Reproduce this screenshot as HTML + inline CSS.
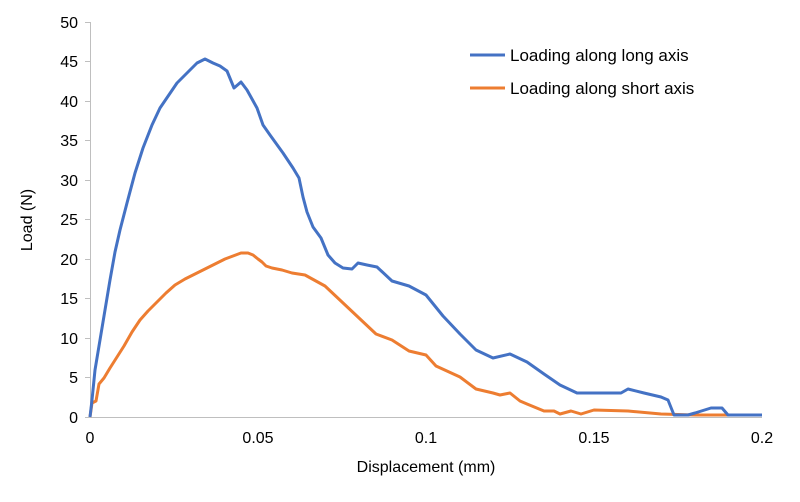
<!DOCTYPE html>
<html><head><style>body{margin:0;background:#fff}svg{display:block}</style></head><body>
<svg width="800" height="502" xmlns="http://www.w3.org/2000/svg" font-family="Liberation Sans, Arial, sans-serif" fill="#000">
<rect width="800" height="502" fill="#fff"/>
<g stroke="#bfbfbf" stroke-width="1">
<line x1="90.5" y1="22" x2="90.5" y2="417"/>
<line x1="90" y1="417.5" x2="762" y2="417.5"/>
<line x1="85" y1="22.5" x2="90" y2="22.5"/><line x1="85" y1="61.5" x2="90" y2="61.5"/><line x1="85" y1="101.5" x2="90" y2="101.5"/><line x1="85" y1="140.5" x2="90" y2="140.5"/><line x1="85" y1="180.5" x2="90" y2="180.5"/><line x1="85" y1="219.5" x2="90" y2="219.5"/><line x1="85" y1="259.5" x2="90" y2="259.5"/><line x1="85" y1="298.5" x2="90" y2="298.5"/><line x1="85" y1="338.5" x2="90" y2="338.5"/><line x1="85" y1="377.5" x2="90" y2="377.5"/><line x1="85" y1="417.5" x2="90" y2="417.5"/>
</g>
<g font-size="16" text-anchor="end">
<text x="78" y="28">50</text><text x="78" y="67">45</text><text x="78" y="107">40</text><text x="78" y="146">35</text><text x="78" y="186">30</text><text x="78" y="225">25</text><text x="78" y="265">20</text><text x="78" y="304">15</text><text x="78" y="344">10</text><text x="78" y="383">5</text><text x="78" y="423">0</text>
</g>
<g font-size="16" text-anchor="middle">
<text x="90" y="443">0</text><text x="258" y="443">0.05</text><text x="426" y="443">0.1</text><text x="594" y="443">0.15</text><text x="762" y="443">0.2</text>
<text x="426" y="472">Displacement (mm)</text>
<text transform="translate(32,220) rotate(-90)">Load (N)</text>
</g>
<polyline fill="none" stroke="#ED7D31" stroke-width="3" stroke-linejoin="round" points="90,417 92,403 96,401 99,384 104,378 110,368 117,357 124,346 132,332 140,320 148,311 157,302 166,293 175,285 185,279 195,274 205,269 215,264 225,259 233,256 241,253 248,253 253,255 258,259 262,262 266,266 272,268 282,270 292,273 305,275 325,286 342,302 359,318 376,334 392,340 409,351 426,355 436,366 460,377 476,389 493,393 500,395 510,393 520,401 527,404 544,411 554,411 560,414 571,411 581,414 594,410 628,411 661,414 695,415 762,415"/>
<polyline fill="none" stroke="#4472C4" stroke-width="3" stroke-linejoin="round" points="90,417 92,400 95,370 100,340 105,310 110,280 115,252 120,230 127,203 135,173 143,148 152,125 160,108 177,83 197,63 205,59 213,63 220,66 227,71 234,88 241,82 247,90 257,108 263,125 270,135 283,153 293,168 299,178 303,197 307,212 313,227 321,238 328,255 335,263 343,268 352,269 358,263 367,265 377,267 392,281 409,286 426,295 443,316 460,334 476,350 493,358 510,354 527,362 544,374 560,385 577,393 594,393 621,393 628,389 644,393 661,397 668,400 674,415 688,415 695,413 711,408 722,408 728,415 762,415"/>
<line x1="470" y1="55" x2="505" y2="55" stroke="#4472C4" stroke-width="3"/>
<line x1="470" y1="88" x2="505" y2="88" stroke="#ED7D31" stroke-width="3"/>
<g font-size="17"><text x="510" y="61">Loading along long axis</text><text x="510" y="94">Loading along short axis</text></g>
</svg>
</body></html>
